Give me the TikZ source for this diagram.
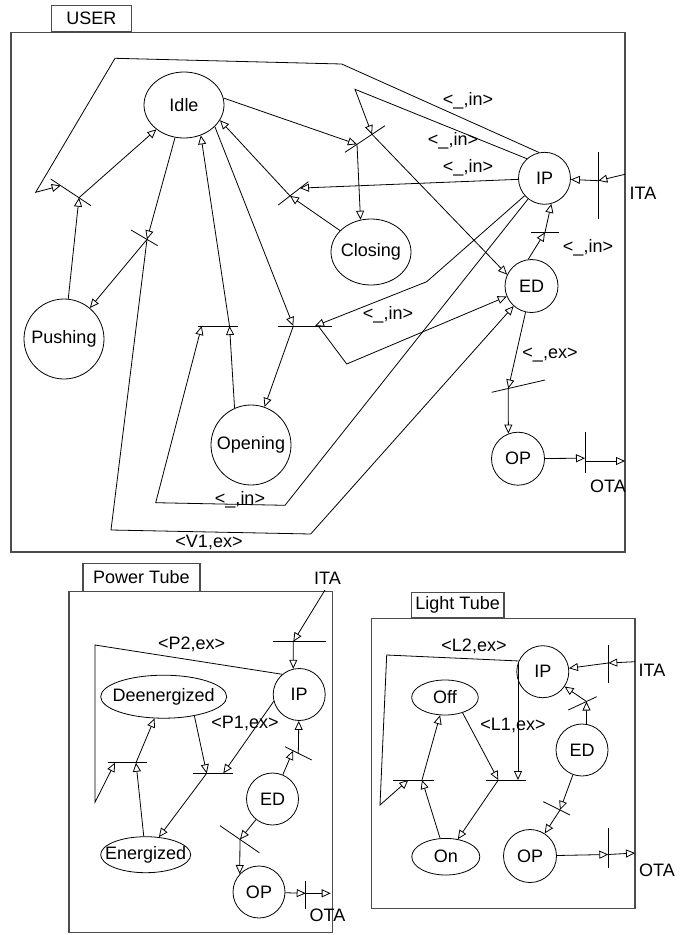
\documentclass[tikz,border=0pt]{standalone}
\usepackage{fontspec}
\setmainfont{Liberation Sans}
\usetikzlibrary{arrows.meta,shapes.geometric}
\begin{document}
\begin{tikzpicture}[x=1pt,y=-1pt,
  every node/.style={font=\fontsize{18}{20}\selectfont},
  cst/.style={draw, circle, inner sep=0pt, line width=0.8pt},
  est/.style={draw, ellipse, inner sep=0pt, line width=0.8pt},
  lbl/.style={inner sep=0pt},
  tbar/.style={line width=0.8pt},
  arr/.style={line width=0.8pt, -{Triangle[open,length=9pt,width=8pt]}},
  boxfr/.style={draw=black!70, line width=1.2pt},
  tabst/.style={draw=black!70, line width=1.2pt, inner sep=0pt, anchor=south west},
]
\useasboundingbox (0,0) rectangle (691,935);

%================ USER =================
\draw[boxfr] (11,32.3) rectangle (625,552);
\node[tabst, minimum width=80pt, minimum height=26.6pt] (usertab) at (50.7,32.3) {USER};

\node[est, minimum width=80pt, minimum height=66pt, label=center:Idle] (idle) at (184,105) {};
\node[cst, minimum size=80pt] (push) at (64,339) {Pushing};
\node[cst, minimum size=80pt] (open) at (251,445) {Opening};
\node[est, minimum width=80pt, minimum height=66pt, label=center:Closing] (clos) at (371,252) {};
\node[cst, minimum size=52pt] (ip) at (544.5,178.3) {IP};
\node[cst, minimum size=53pt] (ed) at (531.5,286) {ED};
\node[cst, minimum size=53pt] (op) at (518,458.7) {OP};

% T1
\coordinate (t1s) at (50.7,179); \coordinate (t1e) at (91,205.7);
\coordinate (t1p) at (79,197.7); \coordinate (t1i) at (60.7,185.6);
\draw[tbar] (t1s) -- (t1e);
\draw[arr] (push) -- (t1p);
\draw[arr] (t1p) -- (idle);
\draw[arr] (ip.102) -- (341.7,64) -- (115,58.3) -- (35.7,192.3) -- (t1i);
\node[lbl] (lin1) at (468,100.7) {<\_,in>};

% T2
\coordinate (t2s) at (131,230); \coordinate (t2e) at (157.7,245.7); \coordinate (t2c) at (147,239.4);
\draw[tbar] (t2s) -- (t2e);
\draw[arr] (idle) -- (t2c);
\draw[arr] (t2c) -- (push);
\draw[arr] (t2c) -- (111,530) -- (310.7,534) -- (ed);
\node[lbl] (lv1) at (209,542.7) {<V1,ex>};

% T3
\coordinate (t3s) at (197.7,326); \coordinate (t3e) at (238.3,326);
\coordinate (t3c) at (229.5,326); \coordinate (t3i) at (201.7,326);
\draw[tbar] (t3s) -- (t3e);
\draw[arr] (open.114) -- (t3c);
\draw[arr] (t3c) -- (idle.-61);
\draw[arr] (ip) -- (285,505.3) -- (155.7,502.7) -- (t3i);
\node[lbl] (lin5) at (240,500) {<\_,in>};

% T4
\coordinate (t4s) at (277.7,326); \coordinate (t4e) at (331.7,326);
\coordinate (t4c) at (293.3,326); \coordinate (t4i) at (315,326); \coordinate (t4o) at (318.3,326);
\draw[tbar] (t4s) -- (t4e);
\draw[arr] (idle.-35) -- (t4c);
\draw[arr] (t4c) -- (open);
\draw[arr] (ip) -- (426.7,281.7) -- (t4i);
\draw[arr] (t4o) -- (346.7,364) -- (ed);
\node[lbl] (lin4) at (388,314.3) {<\_,in>};

% T5
\coordinate (t5s) at (345,152.3); \coordinate (t5e) at (385,125.7);
\coordinate (t5a) at (357,144.3); \coordinate (t5b) at (372,134.3);
\draw[tbar] (t5s) -- (t5e);
\draw[arr] (idle.10) -- (t5a);
\draw[arr] (ip.132) -- (355,89.3) -- (t5b);
\draw[arr] (t5a) -- (clos.108);
\draw[arr] (t5b) -- (ed.155);
\node[lbl] (lin2) at (453,140.7) {<\_,in>};

% T6
\coordinate (t6s) at (278.3,205); \coordinate (t6e) at (308.3,181.7);
\coordinate (t6a) at (290,195.9); \coordinate (t6b) at (300,188.1);
\draw[tbar] (t6s) -- (t6e);
\draw[arr] (clos) -- (t6a);
\draw[arr] (t6a) -- (idle.-23);
\draw[arr] (ip) -- (t6b);
\node[lbl] (lin3) at (468,167.3) {<\_,in>};

% ED -> IP
\coordinate (t7s) at (531,232.3); \coordinate (t7e) at (559,232.3); \coordinate (t7c) at (545,232.3);
\draw[tbar] (t7s) -- (t7e);
\draw[arr] (ed.97) -- (t7c);
\draw[arr] (t7c) -- (ip.-75);
\node[lbl] (lin6) at (588,248) {<\_,in>};

% ED -> OP
\coordinate (t8s) at (491.7,392.3); \coordinate (t8e) at (545,380); \coordinate (t8c) at (508.3,388.5);
\draw[tbar] (t8s) -- (t8e);
\draw[arr] (ed) -- (t8c);
\draw[arr] (t8c) -- (op.111);
\node[lbl] (lex1) at (550,355) {<\_,ex>};

% OTA
\coordinate (t9s) at (585,432.3); \coordinate (t9e) at (585,473.3);
\coordinate (t9a) at (585,458.2); \coordinate (t9b) at (585,461); \coordinate (ota1) at (625,461);
\draw[tbar] (t9s) -- (t9e);
\draw[arr] (op) -- (t9a);
\draw[arr] (t9b) -- (ota1);
\node[lbl] (lota1) at (608,486.7) {OTA};

% ITA
\coordinate (t10s) at (598.3,152.3); \coordinate (t10e) at (598.3,219);
\coordinate (t10c) at (598.3,180.7); \coordinate (ita1) at (625,174.3);
\draw[tbar] (t10s) -- (t10e);
\draw[arr] (ita1) -- (t10c);
\draw[arr] (t10c) -- (ip);
\node[lbl] (lita1) at (643,193) {ITA};

%================ POWER TUBE =================
\draw[boxfr] (69,591.7) rectangle (332.7,932.7);
\node[tabst, minimum width=117pt, minimum height=27.7pt] (powtab) at (82.3,591.7) {Power Tube};

\node[cst, minimum size=52pt] (pip) at (299.2,694.5) {IP};
\node[est, minimum width=126pt, minimum height=43pt, label=center:Deenergized] (deen) at (163.7,696.7) {};
\node[est, minimum width=90pt, minimum height=36pt, label=center:Energized] (ener) at (145.7,854.7) {};
\node[cst, minimum size=52pt] (ped) at (272.5,799) {ED};
\node[cst, minimum size=52pt] (pop) at (259,892) {OP};

% ITA
\coordinate (pita) at (325,590);
\coordinate (p1s) at (273.3,641.7); \coordinate (p1e) at (325.7,641.7); \coordinate (pt1) at (293.3,641.7);
\draw[tbar] (p1s) -- (p1e);
\draw[arr] (pita) -- (pt1);
\draw[arr] (pt1) -- (pip.103);
\node[lbl] (lita2) at (327.5,578.3) {ITA};

% Energized -> Deenergized
\coordinate (p2s) at (107.7,762.7); \coordinate (p2e) at (147.3,762.7);
\coordinate (pt2a) at (136,762.7); \coordinate (pt2b) at (115,762.7);
\draw[tbar] (p2s) -- (p2e);
\draw[arr] (ener) -- (pt2a);
\draw[arr] (pip.130) -- (95,645) -- (95,802.3) -- (pt2b);
\draw[arr] (pt2a) -- (deen);
\node[lbl] (lp2) at (191.7,644.3) {<P2,ex>};

% Deenergized -> Energized
\coordinate (p3s) at (193.3,773.3); \coordinate (p3e) at (233.3,773.3);
\coordinate (pt3a) at (206.7,773.3); \coordinate (pt3b) at (223.3,773.3);
\draw[tbar] (p3s) -- (p3e);
\draw[arr] (deen.-32) -- (pt3a);
\draw[arr] (pip.195) -- (pt3b);
\draw[arr] (pt3a) -- (ener);
\node[lbl] (lp1) at (245,723.3) {<P1,ex>};

% ED -> IP
\coordinate (p4s) at (285,746.7); \coordinate (p4e) at (311.7,760);
\coordinate (pt4a) at (293,750.8); \coordinate (pt4) at (298.3,753.3);
\draw[tbar] (p4s) -- (p4e);
\draw[arr] (ped) -- (pt4a);
\draw[arr] (pt4) -- (pip);

% ED -> OP
\coordinate (p5s) at (220,825.7); \coordinate (p5e) at (259.3,852.7); \coordinate (pt5) at (240,839.4);
\draw[tbar] (p5s) -- (p5e);
\draw[arr] (ped) -- (pt5);
\draw[arr] (pt5) -- (pop.137);

% OTA
\coordinate (p6s) at (305.7,881); \coordinate (p6e) at (305.7,909);
\coordinate (pt6) at (305.7,893.3); \coordinate (pota) at (330.7,893.3);
\draw[tbar] (p6s) -- (p6e);
\draw[arr] (pop) -- (pt6);
\draw[arr] (pt6) -- (pota);
\node[lbl] (lota2) at (327.5,915) {OTA};

%================ LIGHT TUBE =================
\draw[boxfr] (371.7,618.3) rectangle (635,908.3);
\node[tabst, minimum width=92.6pt, minimum height=25pt] (lighttab) at (410.7,618.3) {Light Tube};

\node[cst, minimum size=52pt] (lip) at (542.8,671.7) {IP};
\node[est, minimum width=66.6pt, minimum height=35pt, label=center:Off] (loff) at (445,697.5) {};
\node[est, minimum width=68pt, minimum height=36.6pt, label=center:On] (lon) at (445.8,856.7) {};
\node[cst, minimum size=52pt] (led) at (582,750) {ED};
\node[cst, minimum size=53pt] (lop) at (530,856) {OP};

% On -> Off
\coordinate (l1s) at (393.3,780); \coordinate (l1e) at (434,780);
\coordinate (lt1a) at (422,780); \coordinate (lt1b) at (408.3,780);
\draw[tbar] (l1s) -- (l1e);
\draw[arr] (lon) -- (lt1a);
\draw[arr] (lip.156) -- (386.7,655) -- (380,805) -- (lt1b);
\draw[arr] (lt1a) -- (loff);
\node[lbl] (ll2) at (474,646.7) {<L2,ex>};

% Off -> On
\coordinate (l2s) at (486,780); \coordinate (l2e) at (526,780); \coordinate (lt2a) at (498.3,780);
\draw[tbar] (l2s) -- (l2e);
\draw[arr] (loff.-41) -- (lt2a);
\draw[arr] (lip.160) -- (lip.160 |- lt2a);
\draw[arr] (lt2a) -- (lon);
\node[lbl] (ll1) at (513,725) {<L1,ex>};

% ED -> IP
\coordinate (l3s) at (568.3,710); \coordinate (l3e) at (596.7,696.7); \coordinate (lt3) at (586.5,701.5);
\draw[tbar] (l3s) -- (l3e);
\draw[arr] (led.80) -- (lt3);
\draw[arr] (lt3) -- (lip);

% ED -> OP
\coordinate (l4s) at (543.3,801.7); \coordinate (l4e) at (570,815); \coordinate (lt4) at (560,810);
\draw[tbar] (l4s) -- (l4e);
\draw[arr] (led) -- (lt4);
\draw[arr] (lt4) -- (lop);

% ITA
\coordinate (l5s) at (608.3,645); \coordinate (l5e) at (608.3,683.3);
\coordinate (lt5) at (608.3,663); \coordinate (lita) at (635,661.7);
\draw[tbar] (l5s) -- (l5e);
\draw[arr] (lita) -- (lt5);
\draw[arr] (lt5) -- (lip);
\node[lbl] (lita3) at (652,670) {ITA};

% OTA
\coordinate (l6s) at (608.3,828.3); \coordinate (l6e) at (608.3,868.3);
\coordinate (lt6) at (608.3,854.5); \coordinate (lota) at (635,853);
\draw[tbar] (l6s) -- (l6e);
\draw[arr] (lop) -- (lt6);
\draw[arr] (lt6) -- (lota);
\node[lbl] (lota3) at (657,870) {OTA};
\end{tikzpicture}
\end{document}
